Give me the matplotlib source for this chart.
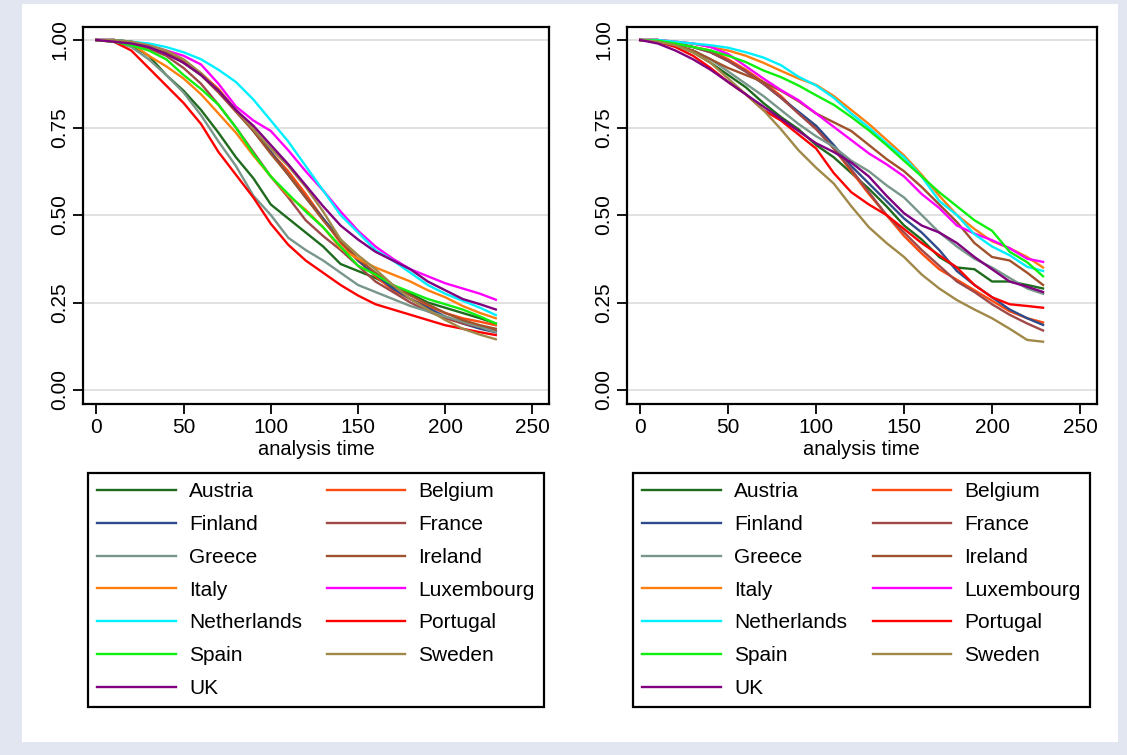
import matplotlib
matplotlib.use("Agg")
import matplotlib.pyplot as plt
from matplotlib.patches import Rectangle

plt.rcParams['font.family'] = ['Liberation Sans', 'DejaVu Sans']

# analysis time at which the curves were read
times = [0, 10, 20, 30, 40, 50, 60, 70, 80, 90, 100, 110, 120, 130, 140, 150,
         160, 170, 180, 190, 200, 210, 220, 229]

countries = ['Austria', 'Belgium', 'Finland', 'France', 'Greece', 'Ireland', 'Italy',
             'Luxembourg', 'Netherlands', 'Portugal', 'Spain', 'Sweden', 'UK']
colors = ['#1E6B1E', '#FF4A10', '#2E4A8A', '#A04848', '#78968A', '#A0522D', '#FF8010',
          '#FF00FF', '#00F0FF', '#FF0000', '#10F010', '#A08848', '#800080']

# left panel survival estimates
austria_a = [1, 0.998, 0.985, 0.955, 0.90, 0.855, 0.80, 0.735, 0.665, 0.605, 0.53, 0.49, 0.45, 0.41, 0.36, 0.34, 0.32, 0.295, 0.275, 0.25, 0.235, 0.22, 0.205, 0.19]
belgium_a = [1, 1, 0.995, 0.985, 0.965, 0.94, 0.905, 0.86, 0.80, 0.745, 0.68, 0.625, 0.56, 0.49, 0.42, 0.37, 0.325, 0.285, 0.26, 0.24, 0.22, 0.205, 0.195, 0.185]
finland_a = [1, 1, 0.995, 0.98, 0.965, 0.935, 0.90, 0.855, 0.80, 0.74, 0.68, 0.615, 0.55, 0.49, 0.43, 0.37, 0.33, 0.29, 0.26, 0.235, 0.21, 0.19, 0.175, 0.165]
france_a = [1, 0.998, 0.99, 0.975, 0.955, 0.92, 0.875, 0.815, 0.75, 0.68, 0.61, 0.55, 0.485, 0.44, 0.40, 0.355, 0.31, 0.28, 0.25, 0.225, 0.205, 0.19, 0.18, 0.17]
greece_a = [1, 0.995, 0.98, 0.945, 0.90, 0.85, 0.785, 0.71, 0.64, 0.555, 0.50, 0.435, 0.40, 0.37, 0.335, 0.30, 0.28, 0.26, 0.24, 0.225, 0.21, 0.195, 0.18, 0.165]
ireland_a = [1, 1, 0.995, 0.985, 0.965, 0.935, 0.90, 0.85, 0.795, 0.74, 0.675, 0.615, 0.55, 0.485, 0.425, 0.375, 0.335, 0.30, 0.27, 0.245, 0.22, 0.20, 0.185, 0.175]
italy_a = [1, 0.998, 0.99, 0.955, 0.925, 0.89, 0.845, 0.79, 0.735, 0.67, 0.61, 0.555, 0.515, 0.465, 0.405, 0.375, 0.35, 0.33, 0.31, 0.285, 0.265, 0.24, 0.22, 0.205]
luxembourg_a = [1, 1, 0.99, 0.985, 0.97, 0.955, 0.93, 0.875, 0.81, 0.77, 0.74, 0.685, 0.625, 0.57, 0.51, 0.455, 0.41, 0.375, 0.345, 0.325, 0.305, 0.29, 0.275, 0.258]
netherlands_a = [1, 1, 0.995, 0.99, 0.98, 0.965, 0.945, 0.915, 0.88, 0.83, 0.77, 0.71, 0.64, 0.57, 0.50, 0.45, 0.40, 0.37, 0.335, 0.30, 0.275, 0.255, 0.235, 0.214]
portugal_a = [1, 0.995, 0.97, 0.92, 0.87, 0.82, 0.76, 0.68, 0.615, 0.55, 0.475, 0.415, 0.37, 0.335, 0.30, 0.27, 0.245, 0.23, 0.215, 0.20, 0.185, 0.175, 0.165, 0.157]
spain_a = [1, 0.995, 0.985, 0.97, 0.945, 0.90, 0.86, 0.815, 0.75, 0.675, 0.61, 0.56, 0.51, 0.465, 0.41, 0.355, 0.33, 0.30, 0.28, 0.26, 0.245, 0.23, 0.21, 0.19]
sweden_a = [1, 1, 0.995, 0.985, 0.97, 0.945, 0.905, 0.855, 0.80, 0.745, 0.69, 0.64, 0.58, 0.51, 0.43, 0.385, 0.345, 0.30, 0.26, 0.23, 0.20, 0.175, 0.158, 0.145]
uk_a = [1, 0.995, 0.99, 0.98, 0.96, 0.935, 0.90, 0.855, 0.80, 0.755, 0.70, 0.645, 0.585, 0.525, 0.47, 0.43, 0.395, 0.37, 0.345, 0.31, 0.285, 0.26, 0.245, 0.23]

# right panel survival estimates
austria_b = [1, 0.995, 0.985, 0.965, 0.935, 0.90, 0.865, 0.82, 0.78, 0.745, 0.70, 0.665, 0.62, 0.575, 0.525, 0.47, 0.43, 0.38, 0.35, 0.345, 0.31, 0.31, 0.30, 0.29]
belgium_b = [1, 1, 0.99, 0.98, 0.97, 0.945, 0.915, 0.88, 0.84, 0.79, 0.75, 0.69, 0.625, 0.56, 0.50, 0.44, 0.39, 0.345, 0.315, 0.285, 0.255, 0.225, 0.205, 0.193]
finland_b = [1, 1, 0.99, 0.98, 0.965, 0.94, 0.91, 0.875, 0.835, 0.795, 0.755, 0.70, 0.64, 0.59, 0.54, 0.49, 0.45, 0.40, 0.34, 0.30, 0.265, 0.23, 0.205, 0.186]
france_b = [1, 1, 0.99, 0.98, 0.965, 0.94, 0.91, 0.875, 0.835, 0.79, 0.745, 0.69, 0.63, 0.565, 0.50, 0.45, 0.40, 0.355, 0.31, 0.28, 0.245, 0.215, 0.19, 0.17]
greece_b = [1, 0.995, 0.985, 0.97, 0.945, 0.91, 0.875, 0.84, 0.80, 0.76, 0.725, 0.695, 0.655, 0.625, 0.585, 0.55, 0.50, 0.45, 0.41, 0.375, 0.35, 0.32, 0.29, 0.275]
ireland_b = [1, 0.995, 0.985, 0.97, 0.945, 0.92, 0.90, 0.88, 0.855, 0.825, 0.79, 0.765, 0.74, 0.70, 0.66, 0.625, 0.58, 0.53, 0.48, 0.42, 0.38, 0.37, 0.335, 0.30]
italy_b = [1, 1, 0.995, 0.99, 0.98, 0.97, 0.955, 0.935, 0.912, 0.89, 0.872, 0.84, 0.80, 0.76, 0.715, 0.67, 0.615, 0.555, 0.50, 0.46, 0.425, 0.405, 0.38, 0.35]
luxembourg_b = [1, 1, 0.995, 0.99, 0.98, 0.96, 0.925, 0.89, 0.857, 0.828, 0.79, 0.752, 0.714, 0.676, 0.645, 0.61, 0.56, 0.52, 0.47, 0.447, 0.428, 0.405, 0.375, 0.366]
netherlands_b = [1, 1, 0.995, 0.99, 0.985, 0.978, 0.965, 0.95, 0.928, 0.895, 0.87, 0.835, 0.79, 0.75, 0.705, 0.665, 0.61, 0.54, 0.50, 0.445, 0.41, 0.385, 0.352, 0.34]
portugal_b = [1, 0.995, 0.98, 0.955, 0.92, 0.88, 0.845, 0.80, 0.77, 0.73, 0.69, 0.62, 0.565, 0.53, 0.50, 0.46, 0.42, 0.385, 0.35, 0.30, 0.265, 0.245, 0.24, 0.235]
spain_b = [1, 0.998, 0.99, 0.98, 0.97, 0.955, 0.937, 0.913, 0.894, 0.87, 0.842, 0.815, 0.78, 0.742, 0.70, 0.655, 0.61, 0.565, 0.525, 0.485, 0.455, 0.395, 0.365, 0.325]
sweden_b = [1, 0.995, 0.985, 0.965, 0.935, 0.89, 0.845, 0.80, 0.745, 0.685, 0.635, 0.59, 0.525, 0.465, 0.42, 0.38, 0.33, 0.29, 0.257, 0.23, 0.205, 0.175, 0.143, 0.138]
uk_b = [1, 0.99, 0.97, 0.945, 0.915, 0.88, 0.845, 0.81, 0.775, 0.74, 0.705, 0.68, 0.65, 0.61, 0.555, 0.505, 0.47, 0.45, 0.42, 0.38, 0.345, 0.31, 0.295, 0.28]

left_series = [austria_a, belgium_a, finland_a, france_a, greece_a, ireland_a, italy_a,
               luxembourg_a, netherlands_a, portugal_a, spain_a, sweden_a, uk_a]
right_series = [austria_b, belgium_b, finland_b, france_b, greece_b, ireland_b, italy_b,
                luxembourg_b, netherlands_b, portugal_b, spain_b, sweden_b, uk_b]

x_ticks = [0, 50, 100, 150, 200, 250]
y_ticks = [0, 0.25, 0.5, 0.75, 1.0]

W, H = 1127, 755
fig = plt.figure(figsize=(W / 100, H / 100), dpi=100)
fig.patch.set_facecolor('#E1E6F1')
# white inner panel, kept behind the axes
fig.patches.append(Rectangle((22 / W, 1 - 742 / H), (1118 - 22) / W, (742 - 4) / H,
                             transform=fig.transFigure, facecolor='white',
                             edgecolor='none', zorder=-5))


def draw_panel(rect, series, legend_box):
    ax = fig.add_axes(rect)
    ax.set_facecolor('white')
    for yv in y_ticks:
        ax.axhline(yv, color='#DCDCDC', lw=1.2, zorder=1)
    lines = []
    for name, col, vals in zip(countries, colors, series):
        ln, = ax.plot(times, vals, color=col, lw=1.7, label=name, zorder=2)
        lines.append(ln)
    ax.set_xlim(-7.5, 259.5)
    ax.set_ylim(-0.04, 1.038)
    ax.set_xticks(x_ticks)
    ax.set_yticks(y_ticks)
    ax.set_yticklabels(['%.2f' % v for v in y_ticks], rotation=90, va='center')
    ax.tick_params(direction='out', length=7, width=1.3, labelsize=15, color='black')
    ax.tick_params(axis='y', pad=3)
    ax.tick_params(axis='x', pad=3)
    for s in ax.spines.values():
        s.set_linewidth(1.6)
        s.set_color('black')
    ax.set_xlabel('analysis time', fontsize=14.5, labelpad=2)

    # legend filled row by row, as in the original
    order = [0, 2, 4, 6, 8, 10, 12, 1, 3, 5, 7, 9, 11]
    x0, y0, w, h = legend_box
    leg = fig.legend([lines[i] for i in order], [countries[i] for i in order],
                     ncol=2, loc='upper left', mode='expand',
                     bbox_to_anchor=(x0 / W, 1 - (y0 + h) / H, w / W, h / H),
                     bbox_transform=fig.transFigure, borderaxespad=0,
                     fontsize=15, handlelength=3.75, handletextpad=0.65,
                     labelspacing=0.66, borderpad=0.45, columnspacing=1.3,
                     frameon=True, fancybox=False, framealpha=1)
    fr = leg.get_frame()
    fr.set_edgecolor('black')
    fr.set_linewidth(1.6)
    for ln in leg.get_lines():
        ln.set_linewidth(1.7)
    return ax


draw_panel([83.3 / W, 1 - 404 / H, 465.7 / W, 377.3 / H], left_series, (88, 473, 456, 237))
draw_panel([627 / W, 1 - 404 / H, 469.7 / W, 377.3 / H], right_series, (633, 473, 457, 237))

fig.savefig('out.png', dpi=100, facecolor=fig.get_facecolor())
